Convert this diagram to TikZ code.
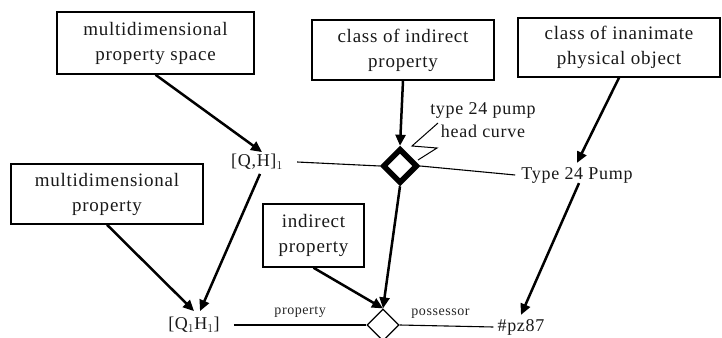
\documentclass[tikz,border=0pt]{standalone}
\usepackage{fontspec}
\setmainfont{Liberation Serif}[LetterSpace=4]
\usetikzlibrary{arrows.meta,shapes.geometric}
\begin{document}
\begin{tikzpicture}[x=1pt,y=-1pt,
  mybox/.style={draw,line width=1.5pt,inner sep=0pt,align=center,text=black!90,
    font=\fontsize{19}{25}\selectfont},
  lbl/.style={inner sep=0pt,text=black!90,font=\fontsize{18}{23}\selectfont},
  small/.style={inner sep=0pt,text=black!85,font=\fontsize{14}{16}\selectfont},
  arr/.style={line width=2.5pt,-{Triangle[length=11pt,width=10pt]}},
  thinline/.style={line width=1.1pt}]
\useasboundingbox (0,0) rectangle (722,337);
\fill[white] (0,0) rectangle (722,337);
% boxes
\node[mybox,minimum width=197,minimum height=62] (b1) at (155.5,43) {multidimensional\\property space};
\node[mybox,minimum width=182,minimum height=60] (b2) at (403,50) {class of indirect\\property};
\node[mybox,minimum width=202,minimum height=59] (b3) at (619,47.5) {class of inanimate\\physical object};
\node[mybox,minimum width=192,minimum height=60] (b4) at (107,194) {multidimensional\\property};
\node[mybox,minimum width=101,minimum height=63] (b5) at (313.5,235.5) {indirect\\property};
% labels
\node[lbl] (qh) at (257,162) {[Q,H]$_1$};
\node[lbl] (q1) at (194,325) {[Q$_1$H$_1$]};
\node[lbl] (t24) at (577,175) {Type 24 Pump};
\node[lbl] (pz) at (521,327) {\#pz87};
\node[lbl,align=center] (hc) at (483,120) {type 24 pump\\head curve};
% diamonds
\node[draw,diamond,line width=5.5pt,minimum size=35pt,inner sep=0pt] (td) at (400,166) {};
\begin{scope}
\clip (0,0) rectangle (722,337);
\node[draw,diamond,line width=1.2pt,minimum size=32pt,inner sep=0pt] (bd) at (383,325) {};
\end{scope}
% lines
\draw[thinline] ([xshift=14pt]qh.east) -- (td.west);
\draw[thinline] (td.east) -- ([xshift=-6pt]t24.west);
\draw[thinline] ([xshift=14pt]q1.east) -- node[small,above=7pt]{property} (bd.west);
\draw[thinline] (bd.east) -- node[small,above=7pt,xshift=-6pt]{possessor} ([xshift=-4pt]pz.west);
\coordinate (z0) at (438,123);
\draw[line width=1pt] (z0) -- (412,146) -- (437,148) -- (418,160);
% arrows
\draw[arr] (b1.south) -- ([xshift=5pt,yshift=2pt]qh.north);
\draw[arr] (b2.south) -- (td.north);
\draw[arr] (b3.south) -- ([yshift=4pt]t24.north);
\draw[arr] ([xshift=2pt]t24.south) -- ([yshift=4pt]pz.north);
\draw[arr] (b4.south) -- ([yshift=6pt]q1.north);
\draw[arr] ([xshift=3pt,yshift=-4pt]qh.south) -- ([xshift=6pt,yshift=6pt]q1.north);
\draw[arr] (b5.south) -- (bd.north);
\draw[arr] (td.south) -- (bd.north);
\end{tikzpicture}
\end{document}
